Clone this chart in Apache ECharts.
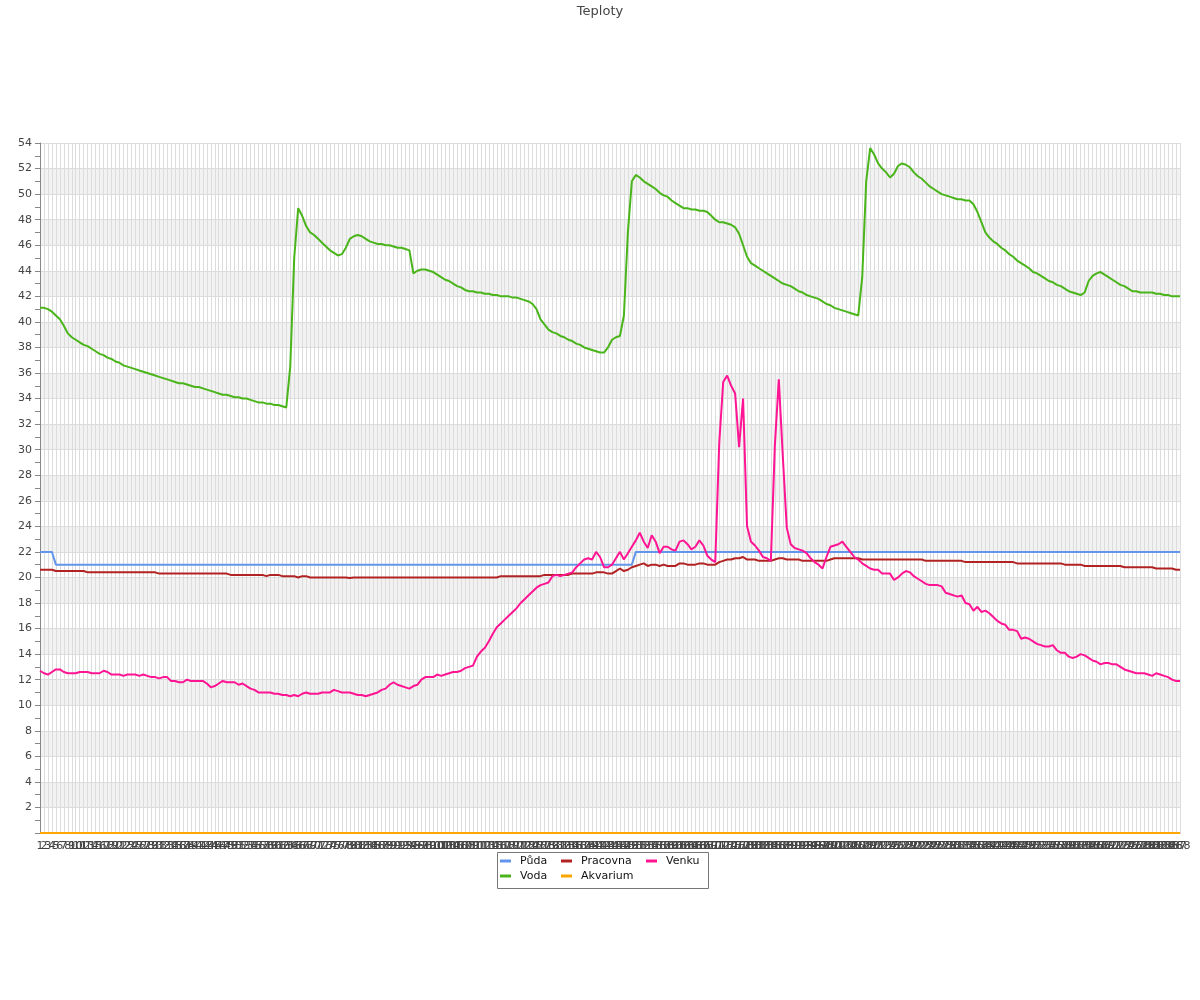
<!DOCTYPE html>
<html>
<head>
<meta charset="utf-8">
<script src="https://cdn.jsdelivr.net/npm/echarts@6/dist/echarts.min.js"></script>
<style>html,body{margin:0;padding:0;background:#fff}#c{width:1200px;height:1000px}</style>
</head>
<body>
<div id="c"></div>
<script>
const categories = Array.from({length: 288}, (_, i) => String(i + 1));

const puda = [
22,22,22,22,21,21,21,21,21,21,21,21,21,21,21,21,21,21,21,21,
21,21,21,21,21,21,21,21,21,21,21,21,21,21,21,21,21,21,21,21,
21,21,21,21,21,21,21,21,21,21,21,21,21,21,21,21,21,21,21,21,
21,21,21,21,21,21,21,21,21,21,21,21,21,21,21,21,21,21,21,21,
21,21,21,21,21,21,21,21,21,21,21,21,21,21,21,21,21,21,21,21,
21,21,21,21,21,21,21,21,21,21,21,21,21,21,21,21,21,21,21,21,
21,21,21,21,21,21,21,21,21,21,21,21,21,21,21,21,21,21,21,21,
21,21,21,21,21,21,21,21,21,21,22,22,22,22,22,22,22,22,22,22,
22,22,22,22,22,22,22,22,22,22,22,22,22,22,22,22,22,22,22,22,
22,22,22,22,22,22,22,22,22,22,22,22,22,22,22,22,22,22,22,22,
22,22,22,22,22,22,22,22,22,22,22,22,22,22,22,22,22,22,22,22,
22,22,22,22,22,22,22,22,22,22,22,22,22,22,22,22,22,22,22,22,
22,22,22,22,22,22,22,22,22,22,22,22,22,22,22,22,22,22,22,22,
22,22,22,22,22,22,22,22,22,22,22,22,22,22,22,22,22,22,22,22,
22,22,22,22,22,22,22,22
];

const voda = [
41.1,41.1,41.0,40.8,40.5,40.2,39.7,39.1,38.8,38.6,38.4,38.2,38.1,37.9,37.7,37.5,37.4,37.2,37.1,36.9,
36.8,36.6,36.5,36.4,36.3,36.2,36.1,36.0,35.9,35.8,35.7,35.6,35.5,35.4,35.3,35.2,35.2,35.1,35.0,34.9,
34.9,34.8,34.7,34.6,34.5,34.4,34.3,34.3,34.2,34.1,34.1,34.0,34.0,33.9,33.8,33.7,33.7,33.6,33.6,33.5,
33.5,33.4,33.3,36.5,45.0,48.9,48.3,47.5,47.0,46.8,46.5,46.2,45.9,45.6,45.4,45.2,45.3,45.8,46.5,46.7,
46.8,46.7,46.5,46.3,46.2,46.1,46.1,46.0,46.0,45.9,45.8,45.8,45.7,45.6,43.8,44.0,44.1,44.1,44.0,43.9,
43.7,43.5,43.3,43.2,43.0,42.8,42.7,42.5,42.4,42.4,42.3,42.3,42.2,42.2,42.1,42.1,42.0,42.0,42.0,41.9,
41.9,41.8,41.7,41.6,41.4,41.0,40.2,39.8,39.4,39.2,39.1,38.9,38.8,38.6,38.5,38.3,38.2,38.0,37.9,37.8,
37.7,37.6,37.6,38.0,38.6,38.8,38.9,40.5,47.0,51.0,51.5,51.3,51.0,50.8,50.6,50.4,50.1,49.9,49.8,49.5,
49.3,49.1,48.9,48.9,48.8,48.8,48.7,48.7,48.6,48.3,48.0,47.8,47.8,47.7,47.6,47.4,46.9,46.0,45.1,44.6,
44.4,44.2,44.0,43.8,43.6,43.4,43.2,43.0,42.9,42.8,42.6,42.4,42.3,42.1,42.0,41.9,41.8,41.6,41.4,41.3,
41.1,41.0,40.9,40.8,40.7,40.6,40.5,43.5,51.0,53.6,53.1,52.4,52.0,51.7,51.3,51.6,52.2,52.4,52.3,52.1,
51.7,51.4,51.2,50.9,50.6,50.4,50.2,50.0,49.9,49.8,49.7,49.6,49.6,49.5,49.5,49.2,48.6,47.8,47.0,46.6,
46.3,46.1,45.8,45.6,45.3,45.1,44.8,44.6,44.4,44.2,43.9,43.8,43.6,43.4,43.2,43.1,42.9,42.8,42.6,42.4,
42.3,42.2,42.1,42.3,43.2,43.6,43.8,43.9,43.7,43.5,43.3,43.1,42.9,42.8,42.6,42.4,42.4,42.3,42.3,42.3,
42.3,42.2,42.2,42.1,42.1,42.0,42.0,42.0
];

const pracovna = [
20.6,20.6,20.6,20.6,20.5,20.5,20.5,20.5,20.5,20.5,20.5,20.5,20.4,20.4,20.4,20.4,20.4,20.4,20.4,20.4,
20.4,20.4,20.4,20.4,20.4,20.4,20.4,20.4,20.4,20.4,20.3,20.3,20.3,20.3,20.3,20.3,20.3,20.3,20.3,20.3,
20.3,20.3,20.3,20.3,20.3,20.3,20.3,20.3,20.2,20.2,20.2,20.2,20.2,20.2,20.2,20.2,20.2,20.1,20.2,20.2,
20.2,20.1,20.1,20.1,20.1,20.0,20.1,20.1,20.0,20.0,20.0,20.0,20.0,20.0,20.0,20.0,20.0,20.0,19.95,20.0,
20.0,20.0,20.0,20.0,20.0,20.0,20.0,20.0,20.0,20.0,20.0,20.0,20.0,20.0,20.0,20.0,20.0,20.0,20.0,20.0,
20.0,20.0,20.0,20.0,20.0,20.0,20.0,20.0,20.0,20.0,20.0,20.0,20.0,20.0,20.0,20.0,20.1,20.1,20.1,20.1,
20.1,20.1,20.1,20.1,20.1,20.1,20.1,20.2,20.2,20.2,20.2,20.2,20.2,20.2,20.3,20.3,20.3,20.3,20.3,20.3,
20.4,20.4,20.4,20.3,20.3,20.5,20.7,20.5,20.6,20.8,20.9,21.0,21.1,20.9,21.0,21.0,20.9,21.0,20.9,20.9,
20.9,21.1,21.1,21.0,21.0,21.0,21.1,21.1,21.0,21.0,21.0,21.2,21.3,21.4,21.4,21.5,21.5,21.6,21.4,21.4,
21.4,21.3,21.3,21.3,21.3,21.4,21.5,21.5,21.4,21.4,21.4,21.4,21.3,21.3,21.3,21.3,21.3,21.3,21.3,21.4,
21.5,21.5,21.5,21.5,21.5,21.5,21.5,21.4,21.4,21.4,21.4,21.4,21.4,21.4,21.4,21.4,21.4,21.4,21.4,21.4,
21.4,21.4,21.4,21.3,21.3,21.3,21.3,21.3,21.3,21.3,21.3,21.3,21.3,21.2,21.2,21.2,21.2,21.2,21.2,21.2,
21.2,21.2,21.2,21.2,21.2,21.2,21.1,21.1,21.1,21.1,21.1,21.1,21.1,21.1,21.1,21.1,21.1,21.1,21.0,21.0,
21.0,21.0,21.0,20.9,20.9,20.9,20.9,20.9,20.9,20.9,20.9,20.9,20.9,20.8,20.8,20.8,20.8,20.8,20.8,20.8,
20.8,20.7,20.7,20.7,20.7,20.7,20.6,20.6
];

const akvarium = [
0,0,0,0,0,0,0,0,0,0,0,0,0,0,0,0,0,0,0,0,0,0,0,0,0,0,0,0,0,0,0,0,0,0,0,0,0,0,0,0,
0,0,0,0,0,0,0,0,0,0,0,0,0,0,0,0,0,0,0,0,0,0,0,0,0,0,0,0,0,0,0,0,0,0,0,0,0,0,0,0,
0,0,0,0,0,0,0,0,0,0,0,0,0,0,0,0,0,0,0,0,0,0,0,0,0,0,0,0,0,0,0,0,0,0,0,0,0,0,0,0,
0,0,0,0,0,0,0,0,0,0,0,0,0,0,0,0,0,0,0,0,0,0,0,0,0,0,0,0,0,0,0,0,0,0,0,0,0,0,0,0,
0,0,0,0,0,0,0,0,0,0,0,0,0,0,0,0,0,0,0,0,0,0,0,0,0,0,0,0,0,0,0,0,0,0,0,0,0,0,0,0,
0,0,0,0,0,0,0,0,0,0,0,0,0,0,0,0,0,0,0,0,0,0,0,0,0,0,0,0,0,0,0,0,0,0,0,0,0,0,0,0,
0,0,0,0,0,0,0,0,0,0,0,0,0,0,0,0,0,0,0,0,0,0,0,0,0,0,0,0,0,0,0,0,0,0,0,0,0,0,0,0,
0,0,0,0,0,0,0,0
];

const venku = [
12.7,12.5,12.4,12.6,12.8,12.8,12.6,12.5,12.5,12.5,12.6,12.6,12.6,12.5,12.5,12.5,12.7,12.6,12.4,12.4,
12.4,12.3,12.4,12.4,12.4,12.3,12.4,12.3,12.2,12.2,12.1,12.2,12.2,11.9,11.9,11.8,11.8,12.0,11.9,11.9,
11.9,11.9,11.7,11.4,11.5,11.7,11.9,11.8,11.8,11.8,11.6,11.7,11.5,11.3,11.2,11.0,11.0,11.0,11.0,10.9,
10.9,10.8,10.8,10.7,10.8,10.7,10.9,11.0,10.9,10.9,10.9,11.0,11.0,11.0,11.2,11.1,11.0,11.0,11.0,10.9,
10.8,10.8,10.7,10.8,10.9,11.0,11.2,11.3,11.6,11.8,11.6,11.5,11.4,11.3,11.5,11.6,12.0,12.2,12.2,12.2,
12.4,12.3,12.4,12.5,12.6,12.6,12.7,12.9,13.0,13.1,13.8,14.2,14.5,15.0,15.6,16.1,16.4,16.7,17.0,17.3,
17.6,18.0,18.3,18.6,18.9,19.2,19.4,19.5,19.6,20.1,20.2,20.1,20.2,20.3,20.4,20.8,21.1,21.4,21.5,21.4,
22.0,21.6,20.8,20.8,21.0,21.5,22.0,21.4,21.9,22.4,22.9,23.5,22.8,22.3,23.3,22.8,21.9,22.4,22.4,22.2,
22.1,22.8,22.9,22.6,22.2,22.4,22.9,22.5,21.7,21.4,21.2,30.5,35.3,35.8,35.0,34.4,30.2,34.0,24.0,22.8,
22.5,22.1,21.6,21.5,21.3,30.3,35.5,29.5,23.9,22.6,22.3,22.2,22.1,21.9,21.5,21.2,21.0,20.7,21.6,22.4,
22.5,22.6,22.8,22.4,22.0,21.6,21.4,21.1,20.9,20.7,20.6,20.6,20.3,20.3,20.3,19.8,20.0,20.3,20.5,20.4,
20.1,19.9,19.7,19.5,19.4,19.4,19.4,19.3,18.8,18.7,18.6,18.5,18.6,18.0,17.9,17.4,17.7,17.3,17.4,17.2,
16.9,16.6,16.4,16.3,15.9,15.9,15.8,15.2,15.3,15.2,15.0,14.8,14.7,14.6,14.6,14.7,14.3,14.1,14.1,13.8,
13.7,13.8,14.0,13.9,13.7,13.5,13.4,13.2,13.3,13.3,13.2,13.2,13.0,12.8,12.7,12.6,12.5,12.5,12.5,12.4,
12.3,12.5,12.4,12.3,12.2,12.0,11.9,11.9
];

const legendColumns = [['Půda', 'Voda'], ['Pracovna', 'Akvarium'], ['Venku']];

const colors = {
  puda: '#6495ED', voda: '#4ab51a', pracovna: '#b22222', akvarium: '#ffa500', venku: '#ff1493'
};

const chart = echarts.init(document.getElementById('c'), null, {renderer: 'canvas'});
const font = 'DejaVu Sans, sans-serif';
function line(name, data, color) {
  return {
    name, type: 'line', data, symbol: 'none', color,
    lineStyle: {width: 2, color}, animation: false
  };
}
const legendLefts = [500, 561, 646];
chart.setOption({
  animation: false,
  textStyle: {fontFamily: font},
  title: {
    text: 'Teploty', left: 'center', top: 0,
    textStyle: {fontFamily: font, fontSize: 13, fontWeight: 'normal', color: '#444'}
  },
  legend: legendColumns.map((col, k) => ({
    data: col, orient: 'vertical', left: legendLefts[k], top: 854, itemGap: 1,
    itemWidth: 11, itemHeight: 3, icon: 'rect', padding: 0,
    textStyle: {fontFamily: font, fontSize: 11, lineHeight: 14, color: '#111', padding: [0, 0, 0, 4]}
  })),
  graphic: [{
    type: 'rect', left: 495, top: 850, shape: {width: 211, height: 36},
    style: {fill: 'none', stroke: '#777', lineWidth: 1}, silent: true
  }],
  grid: {left: 40, right: 20, top: 143, bottom: 167, containLabel: false},
  xAxis: {
    type: 'category', data: categories, boundaryGap: false,
    axisLine: {show: true, lineStyle: {color: '#888'}},
    axisTick: {show: false},
    axisLabel: {interval: 0, fontSize: 11, color: '#444', margin: 8, fontFamily: font},
    splitLine: {show: true, interval: 0, lineStyle: {color: '#dcdcdc', width: 1}}
  },
  yAxis: {
    type: 'value', min: 0, max: 54, interval: 2,
    axisLine: {show: true, lineStyle: {color: '#888'}},
    axisTick: {show: true, length: 5, lineStyle: {color: '#888'}},
    minorTick: {show: true, splitNumber: 2, length: 5, lineStyle: {color: '#888'}},
    axisLabel: {fontSize: 11, color: '#444', margin: 8, fontFamily: font,
      formatter: v => (v === 0 ? '' : String(v))},
    splitLine: {show: true, lineStyle: {color: '#dcdcdc', width: 1}},
    splitArea: {show: true, areaStyle: {color: ['#ffffff', '#f2f2f2']}}
  },
  series: [
    line('Půda', puda, colors.puda),
    line('Voda', voda, colors.voda),
    line('Pracovna', pracovna, colors.pracovna),
    line('Akvarium', akvarium, colors.akvarium),
    line('Venku', venku, colors.venku)
  ]
});
</script>
</body>
</html>
